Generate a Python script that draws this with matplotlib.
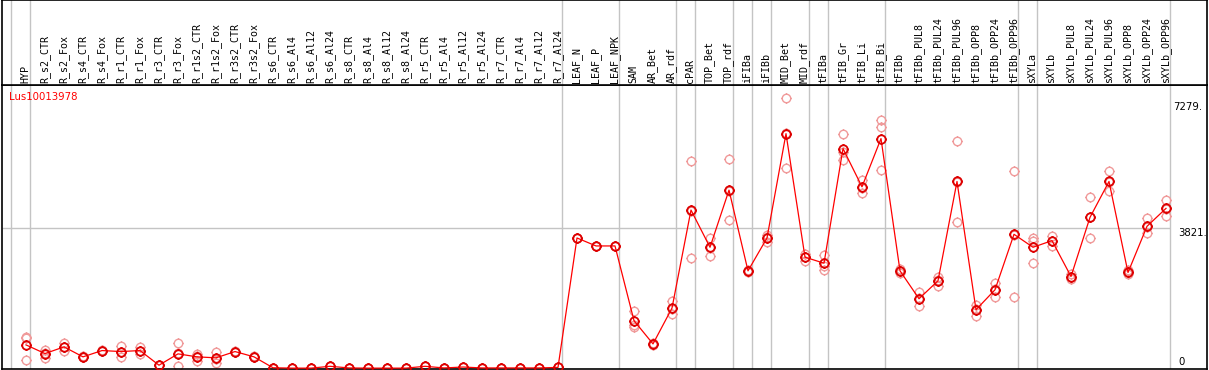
import matplotlib
matplotlib.use('Agg')
import matplotlib.pyplot as plt
import numpy as np
from matplotlib.path import Path

gene = 'Lus10013978'

samples = ['HYP',
           'R_s2_CTR', 'R_s2_Fox', 'R_s4_CTR', 'R_s4_Fox', 'R_r1_CTR', 'R_r1_Fox',
           'R_r3_CTR', 'R_r3_Fox', 'R_r1s2_CTR', 'R_r1s2_Fox', 'R_r3s2_CTR', 'R_r3s2_Fox',
           'R_s6_CTR', 'R_s6_Al4', 'R_s6_Al12', 'R_s6_Al24', 'R_s8_CTR', 'R_s8_Al4',
           'R_s8_Al12', 'R_s8_Al24', 'R_r5_CTR', 'R_r5_Al4', 'R_r5_Al12', 'R_r5_Al24',
           'R_r7_CTR', 'R_r7_Al4', 'R_r7_Al12', 'R_r7_Al24',
           'LEAF_N', 'LEAF_P', 'LEAF_NPK',
           'SAM', 'AR_Bet', 'AR_rdf',
           'cPAR', 'TOP_Bet', 'TOP_rdf',
           'iFIBa', 'iFIBb',
           'MID_Bet', 'MID_rdf',
           'tFIBa', 'tFIB_Gr', 'tFIB_Li', 'tFIB_Bi',
           'tFIBb', 'tFIBb_PUL8', 'tFIBb_PUL24', 'tFIBb_PUL96',
           'tFIBb_OPP8', 'tFIBb_OPP24', 'tFIBb_OPP96',
           'sXYLa',
           'sXYLb', 'sXYLb_PUL8', 'sXYLb_PUL24', 'sXYLb_PUL96',
           'sXYLb_OPP8', 'sXYLb_OPP24', 'sXYLb_OPP96']

means = [642,
         406, 588, 317, 488, 461, 488, 90, 398, 317, 290, 461, 317,
         20, 10, 10, 60, 15, 10, 10, 10, 60, 15, 40, 15, 15, 15, 15, 30,
         3550, 3333, 3333,
         1301, 669, 1644,
         4309, 3297, 4851,
         2656, 3550,
         6387, 3027,
         2864, 5981, 4941, 6252,
         2656, 1897, 2385, 5086, 1599, 2141, 3650,
         3297,
         3477, 2502, 4111, 5086, 2611, 3867, 4355]

replicates = [[850, 832, 244],
              [515, 290, 410], [696, 488, 580], [330, 310, 310], [500, 480, 485],
              [615, 317, 450], [588, 398, 480], [95, 85, 90], [696, 72, 420],
              [398, 217, 330], [461, 154, 260], [480, 450, 455], [330, 310, 310],
              [20, 20, 20], [10, 10, 10], [10, 10, 10], [60, 60, 60], [15, 15, 15],
              [10, 10, 10], [10, 10, 10], [10, 10, 10], [60, 60, 60], [15, 15, 15],
              [40, 40, 40], [15, 15, 15], [15, 15, 15], [15, 15, 15], [15, 15, 15],
              [30, 30, 30],
              [3550, 3550, 3550], [3333, 3333, 3333], [3333, 3333, 3333],
              [1572, 1190, 1140], [700, 640, 670], [1843, 1472, 1620],
              [5637, 3008, 4282], [3550, 3053, 3290], [5691, 4038, 4824],
              [2680, 2630, 2656], [3631, 3450, 3570],
              [7350, 5466, 6400], [3117, 2935, 3030],
              [3097, 2683, 2800], [6387, 5664, 5890], [5122, 4778, 4920],
              [6767, 6567, 5385],
              [2700, 2610, 2656], [2078, 1699, 1910], [2502, 2231, 2420],
              [6198, 3975, 5085], [1734, 1428, 1630], [2312, 1943, 2170],
              [5366, 1943, 3640],
              [3541, 3477, 2873],
              [3604, 3342, 3480], [2580, 2440, 2490], [4670, 3541, 4120],
              [5358, 4816, 5085], [2680, 2560, 2600], [4084, 3677, 3840],
              [4572, 4155, 4340]]

# last sample index of each tissue group (-1 = left edge)
group_ends = [-1, 0, 28, 31, 34, 35, 37, 38, 39, 41, 42, 45, 52, 53, 60]

y_max_label = '7279.'
y_mid = 3821
y_mid_label = '3821.'

W, H = 1209, 370
fig = plt.figure(figsize=(W / 100, H / 100), dpi=100)


def rect(x0, y0, x1, y1):
    return [x0 / W, 1 - y1 / H, (x1 - x0) / W, (y1 - y0) / H]


ax = fig.add_axes(rect(2, 85, 1207, 369))
hax = fig.add_axes(rect(2, 0, 1207, 85))

xlim = ((2 - 26) / 19, (1207 - 26) / 19)
k = 140.5 / 3821
for a in (ax, hax):
    a.set_xlim(*xlim)
    a.set_xticks([])
    a.set_yticks([])
    for s in a.spines.values():
        s.set_linewidth(1.2)
        s.set_color('black')
ax.set_ylim(-0.5 / k, 283.5 / k)

grid_col = '#c4c4c4'
for g in group_ends:
    for a in (ax, hax):
        a.axvline(g + 0.21, color=grid_col, lw=1.0, zorder=0)
ax.hlines(y_mid, xlim[0], group_ends[-1] + 0.21, color=grid_col, lw=1.0, zorder=0)

# circle marker with tiny ticks like the original bitmap
circ = Path.unit_circle()
tick_v = [[0, 1], [0, 1.2], [0, -1], [0, -1.2], [1, 0], [1.2, 0], [-1, 0], [-1.2, 0]]
ring = Path(np.concatenate([circ.vertices, tick_v]),
            np.concatenate([circ.codes, [Path.MOVETO, Path.LINETO] * 4]))

x = np.arange(len(samples))
for i, r in enumerate(replicates):
    ax.plot([i] * len(r), r, linestyle='none', marker=ring, markersize=7.3,
            markerfacecolor='none', markeredgecolor='#f09a9a', markeredgewidth=1.0,
            zorder=2)

ax.plot(x, means, color='red', lw=0.9, zorder=3)
ax.plot(x, means, linestyle='none', marker=ring, markersize=7.3,
        markerfacecolor='none', markeredgecolor='#dd0000', markeredgewidth=1.3,
        zorder=4)

for i, name in enumerate(samples):
    hax.text(i - 0.03, 2 / 85, name, rotation=90, ha='center', va='bottom',
             fontsize=7.2, family='DejaVu Sans Mono',
             transform=hax.get_xaxis_transform())

fig.text(9 / W, 1 - 97.5 / H, gene, color='red', fontsize=7.3, ha='left', va='center')
fig.text(1173 / W, 1 - 106.5 / H, y_max_label, fontsize=7.3, ha='left', va='center')
fig.text(1178 / W, 1 - 232.5 / H, y_mid_label, fontsize=7.3, ha='left', va='center')
fig.text(1178 / W, 1 - 362 / H, '0', fontsize=7.3, ha='left', va='center')

fig.savefig('out.png', dpi=100)
